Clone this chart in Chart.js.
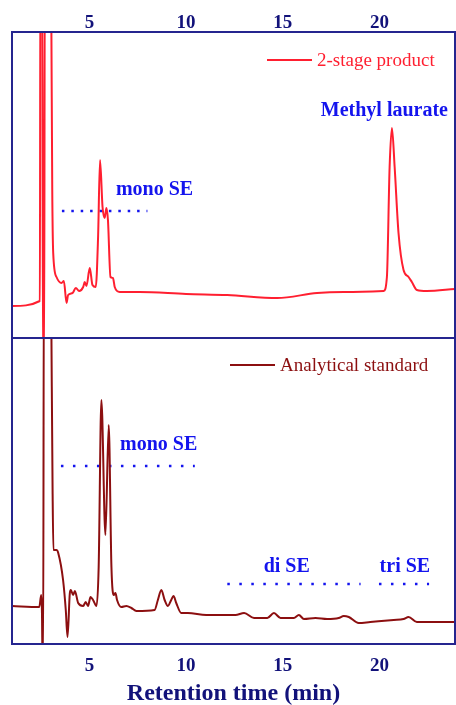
<!DOCTYPE html>
<html>
<head>
<meta charset="utf-8">
<script src="https://cdn.jsdelivr.net/npm/chart.js@4.4.1/dist/chart.umd.min.js"></script>
<style>
    html, body { margin: 0; padding: 0; background: #fff; }
    #wrap { position: relative; width: 456px; height: 705px; }
    #cTop { position: absolute; left: 0; top: 0; }
    #cBot { position: absolute; left: 0; top: 338px; }
</style>
</head>
<body>
<div id="wrap">
    <canvas id="cTop" width="456" height="339"></canvas>
    <canvas id="cBot" width="456" height="367"></canvas>
</div>
<script>
// ---- data (retention time in min, detector signal in arbitrary units) ----
const productTime = [1.00, 2.44, 2.47, 2.56, 2.60, 2.66, 2.70, 2.98, 3.03, 3.08, 3.13, 3.30, 3.56, 3.68, 3.82, 3.90,
    4.13, 4.30, 4.47, 4.68, 4.76, 4.85, 5.02, 5.16, 5.33, 5.45, 5.55, 5.68, 5.79, 5.88, 5.96, 6.09, 6.22, 6.31, 6.57,
    7.60, 10.0, 12.13, 14.71, 16.77, 18.15, 20.21, 20.38, 20.52, 20.64, 20.78, 20.98, 21.24, 21.50, 21.67, 21.93, 22.44, 23.89];
const productSignal = [32, 37, 400, 400, -30, -30, 400, 400, 330, 150, 85, 61, 55, 57, 35, 43,
    45, 50, 47, 51, 56, 52, 70, 53, 51, 101, 178, 131, 120, 130, 118, 61, 60, 51, 46,
    46, 44, 43, 40, 45, 46, 47, 61, 171, 210, 171, 105, 68, 61, 56, 48, 47, 49];

const standardTime = [1.00, 2.41, 2.51, 2.55, 2.58, 2.61, 2.65, 3.00, 3.03, 3.10, 3.14, 3.30, 3.39, 3.64, 3.78, 3.87,
    3.99, 4.04, 4.16, 4.25, 4.42, 4.68, 4.81, 4.93, 5.06, 5.19, 5.37, 5.48, 5.62, 5.83, 6.00, 6.14, 6.26, 6.35, 6.43,
    6.65, 6.91, 7.17, 7.43, 8.37, 8.54, 8.72, 8.89, 9.06, 9.23, 9.35, 9.49, 9.75, 10.09, 11.04, 12.55, 13.00, 13.51,
    14.20, 14.54, 14.88, 15.57, 15.83, 16.09, 16.69, 17.29, 17.89, 18.15, 18.41, 18.92, 19.52, 20.73, 21.24, 21.50,
    21.93, 23.13, 23.89];
const standardSignal = [38, 37, 49, 30, -20, -20, 400, 400, 330, 150, 94, 94, 91, 64, 34, 7,
    51, 54, 49, 53, 41, 38, 42, 38, 47, 44, 38, 77, 244, 109, 219, 77, 49, 51, 44,
    37, 38, 36, 33, 34, 44, 54, 44, 38, 44, 48, 41, 31, 31, 29, 29, 31, 26,
    26, 31, 26, 26, 29, 25, 26, 25, 26, 28, 27, 21, 22, 24, 25, 27,
    22, 22, 22];

const tickValues = [5, 10, 15, 20];

// peak-region markers: [start, end, level]
const productRegions = [[3.58, 8.0, 127]];
const standardRegions = [[3.53, 10.45, 178], [12.13, 19.02, 60], [19.97, 22.56, 60]];

// ---- styles ----
const SERIF = "'Liberation Serif', 'Times New Roman', serif";
const NAVY = '#12127a';
const FRAME = '#25258f';
const NOTE_BLUE = '#1414ee';
const RED = '#ff1f30';
const DARK_RED = '#8c0f10';

function zip(xs, ys) {
    return xs.map((t, i) => ({ x: t, y: ys[i] }));
}

function regionSets(regions, dash) {
    return regions.map(r => ({
        data: [{ x: r[0], y: r[2] }, { x: r[1], y: r[2] }],
        borderColor: NOTE_BLUE,
        borderWidth: 2.5,
        borderDash: dash,
        pointRadius: 0,
        fill: false
    }));
}

// notes, legend and frame
const decor = {
    id: 'decor',
    afterDatasetsDraw(chart, args, opts) {
        const ctx = chart.ctx;
        const a = chart.chartArea;
        const xs = chart.scales.x;
        const ys = chart.scales.y;
        ctx.save();

        ctx.font = 'bold 20px ' + SERIF;
        ctx.fillStyle = NOTE_BLUE;
        ctx.textAlign = 'center';
        ctx.textBaseline = 'middle';
        (opts.notes || []).forEach(n => {
            ctx.fillText(n.text, xs.getPixelForValue(n.t), ys.getPixelForValue(n.v));
        });

        const lg = opts.legend;
        if (lg) {
            ctx.strokeStyle = lg.color;
            ctx.lineWidth = 2;
            ctx.beginPath();
            ctx.moveTo(lg.x, lg.y);
            ctx.lineTo(lg.x + 45, lg.y);
            ctx.stroke();
            ctx.font = '19px ' + SERIF;
            ctx.fillStyle = lg.color;
            ctx.textAlign = 'left';
            ctx.fillText(lg.text, lg.x + 50, lg.y + 1);
        }

        ctx.strokeStyle = FRAME;
        ctx.lineWidth = 2;
        ctx.strokeRect(a.left, a.top, a.right - a.left, a.bottom - a.top);
        ctx.restore();
    }
};

function xAxis(position, height, padding, withTitle) {
    return {
        type: 'linear',
        position: position,
        min: 1,
        max: 23.9,
        grid: { display: false, drawTicks: false },
        border: { display: false },
        ticks: {
            color: NAVY,
            padding: padding,
            maxRotation: 0,
            font: { family: SERIF, size: 19, weight: 'bold' }
        },
        title: {
            display: withTitle,
            text: 'Retention time (min)',
            color: NAVY,
            padding: { top: 0, bottom: -3 },
            font: { family: SERIF, size: 24, weight: 'bold' }
        },
        afterBuildTicks: s => { s.ticks = tickValues.map(v => ({ value: v })); },
        afterFit: s => { s.height = height; }
    };
}

function buildPanel(id, trace, traceColor, regions, dash, xCfg, pad, decorOpts) {
    const ctx = document.getElementById(id).getContext('2d');
    return new Chart(ctx, {
        type: 'line',
        data: {
            datasets: [{
                data: trace,
                borderColor: traceColor,
                borderWidth: 2,
                pointRadius: 0,
                fill: false,
                cubicInterpolationMode: 'monotone'
            }].concat(regionSets(regions, dash))
        },
        options: {
            responsive: false,
            animation: false,
            layout: { padding: pad },
            scales: {
                x: xCfg,
                y: { display: false, min: 0, max: 306 }
            },
            plugins: {
                legend: { display: false },
                tooltip: { enabled: false },
                decor: decorOpts
            }
        },
        plugins: [decor]
    });
}

buildPanel('cTop', zip(productTime, productSignal), RED, productRegions, [2.5, 6.9],
    xAxis('top', 32, -2, false),
    { left: 12, right: 1, top: 0, bottom: 1 },
    {
        notes: [
            { text: 'mono SE', t: 8.37, v: 148 },
            { text: 'Methyl laurate', t: 20.25, v: 227 }
        ],
        legend: { text: '2-stage product', color: RED, x: 267, y: 60 }
    });

buildPanel('cBot', zip(standardTime, standardSignal), DARK_RED, standardRegions, [2.5, 9.5],
    xAxis('bottom', 61, 11, true),
    { left: 12, right: 1, top: 0, bottom: 0 },
    {
        notes: [
            { text: 'mono SE', t: 8.58, v: 199 },
            { text: 'di SE', t: 15.2, v: 77 },
            { text: 'tri SE', t: 21.31, v: 77 }
        ],
        legend: { text: 'Analytical standard', color: DARK_RED, x: 230, y: 27 }
    });
</script>
</body>
</html>
